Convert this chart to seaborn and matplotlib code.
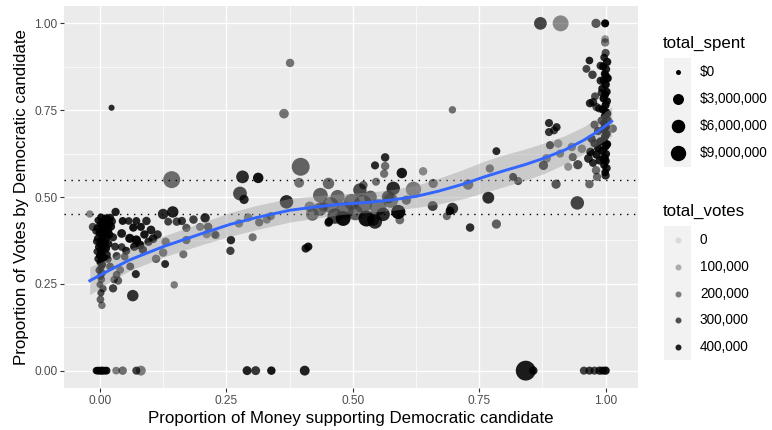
import numpy as np
import pandas as pd
import matplotlib
matplotlib.use("Agg")
import matplotlib.pyplot as plt
from matplotlib.colors import LinearSegmentedColormap
from matplotlib.patches import Rectangle
from matplotlib.ticker import FixedLocator, FormatStrFormatter
import seaborn as sns

# ---------------------------------------------------------------------------
# Race-level data: share of money backing the Democrat (money), Democratic
# vote share (share), total spending in $ millions (spent), total votes in
# thousands (votes).
# ---------------------------------------------------------------------------

# Races where almost no money backed the Democrat
a_money = [0.002, 0.010, -0.004, 0.015, 0.006,
           0.000, 0.012, 0.004, -0.006, 0.018,
           0.008, 0.001, 0.014, -0.002, 0.009,
           0.005, 0.011, -0.005, 0.003, 0.016,
           0.007, 0.000, 0.013, 0.002, -0.003,
           0.010, 0.006, 0.001, 0.004, 0.012,
           -0.001, 0.008, 0.003, 0.000, 0.005,
           0.002, -0.002, 0.004, 0.001, 0.003,
           0.000, 0.006, 0.002, 0.001, 0.004,
           0.020, 0.024, 0.022, 0.019, -0.008,
           -0.007, 0.017, -0.006, 0.014, -0.004,
           -0.014, -0.020]
a_share = [0.442, 0.438, 0.433, 0.436, 0.427,
           0.421, 0.429, 0.416, 0.411, 0.424,
           0.406, 0.401, 0.413, 0.396, 0.392,
           0.387, 0.398, 0.381, 0.377, 0.404,
           0.371, 0.366, 0.384, 0.361, 0.356,
           0.368, 0.349, 0.344, 0.338, 0.352,
           0.331, 0.326, 0.318, 0.312, 0.305,
           0.297, 0.289, 0.281, 0.272, 0.263,
           0.248, 0.236, 0.224, 0.205, 0.188,
           0.440, 0.430, 0.415, 0.392, 0.402,
           0.372, 0.365, 0.343, 0.334, 0.322,
           0.414, 0.451]
a_spent = [0.5, 0.8, 0.3, 1.0, 0.6,
           0.4, 0.9, 0.5, 0.3, 1.2,
           0.7, 0.4, 0.9, 0.3, 0.6,
           0.5, 0.8, 0.3, 0.4, 1.1,
           0.6, 0.4, 0.9, 0.5, 0.3,
           0.7, 0.5, 0.4, 0.5, 0.8,
           0.3, 0.6, 0.4, 0.3, 0.5,
           0.4, 0.3, 0.6, 0.4, 0.5,
           0.3, 0.5, 0.4, 0.6, 0.5,
           0.9, 0.7, 0.8, 0.6, 0.4,
           0.3, 0.7, 0.3, 0.6, 0.4,
           0.8, 0.5]
a_votes = [420, 440, 400, 430, 450,
           410, 445, 430, 390, 420,
           455, 440, 430, 420, 450,
           435, 445, 400, 440, 425,
           450, 430, 440, 445, 410,
           435, 450, 420, 440, 430,
           445, 420, 440, 430, 415,
           400, 380, 360, 340, 300,
           320, 280, 300, 260, 220,
           400, 380, 420, 410, 350,
           380, 400, 360, 380, 370,
           300, 180]

# Races with a small Democratic money share
b_money = [0.031, 0.045, 0.057, 0.072, 0.092,
           0.081, 0.101, 0.114, 0.066, 0.043,
           0.026, 0.059, 0.072, 0.068, 0.079,
           0.096, 0.030, 0.043, 0.033, 0.049,
           0.016, 0.040, 0.033, 0.036, 0.026,
           0.071, 0.065, 0.111, 0.129, 0.125,
           0.130, 0.147, 0.165, 0.171, 0.171,
           0.135, 0.152, 0.162, 0.185, 0.208,
           0.214, 0.211, 0.227, 0.198, 0.229,
           0.088, 0.105, 0.085, 0.052, 0.060,
           0.020, 0.028]
b_share = [0.457, 0.431, 0.431, 0.431, 0.431,
           0.414, 0.405, 0.392, 0.412, 0.395,
           0.384, 0.381, 0.376, 0.357, 0.362,
           0.371, 0.357, 0.356, 0.330, 0.328,
           0.321, 0.290, 0.276, 0.259, 0.237,
           0.278, 0.216, 0.322, 0.307, 0.340,
           0.371, 0.247, 0.335, 0.376, 0.411,
           0.429, 0.429, 0.431, 0.435, 0.440,
           0.414, 0.393, 0.393, 0.414, 0.390,
           0.392, 0.380, 0.348, 0.345, 0.300,
           0.300, 0.262]
b_spent = [0.9, 0.7, 0.6, 0.7, 1.0,
           0.8, 1.2, 1.0, 0.9, 1.2,
           0.8, 1.4, 1.6, 1.0, 1.3,
           0.9, 0.7, 0.6, 0.8, 0.6,
           0.5, 0.7, 0.6, 0.8, 0.9,
           0.8, 3.5, 1.0, 0.7, 1.0,
           1.0, 0.5, 0.8, 0.9, 0.9,
           0.7, 1.0, 0.9, 1.0, 1.6,
           1.0, 0.9, 0.9, 0.8, 0.7,
           1.0, 1.2, 0.9, 0.8, 0.7,
           0.6, 0.5]
b_votes = [400, 420, 380, 400, 380,
           420, 400, 360, 430, 410,
           380, 440, 450, 400, 430,
           380, 360, 340, 330, 300,
           350, 250, 300, 260, 330,
           380, 360, 260, 380, 250,
           250, 200, 220, 280, 280,
           330, 320, 350, 330, 380,
           300, 200, 190, 230, 250,
           420, 400, 380, 390, 330,
           320, 280]

# Competitive-money races on the left half
c_money = [0.125, 0.144, 0.142, 0.282, 0.313,
           0.277, 0.285, 0.275, 0.293, 0.315,
           0.330, 0.338, 0.259, 0.258, 0.302,
           0.369, 0.407, 0.412, 0.397, 0.394,
           0.376, 0.364, 0.023, 0.415, 0.436,
           0.452, 0.456, 0.452, 0.481, 0.498,
           0.514, 0.527, 0.540, 0.544, 0.546,
           0.442, 0.453, 0.420, 0.435, 0.465]
c_share = [0.451, 0.457, 0.550, 0.558, 0.555,
           0.510, 0.493, 0.424, 0.441, 0.427,
           0.435, 0.445, 0.376, 0.345, 0.384,
           0.486, 0.352, 0.357, 0.587, 0.541,
           0.886, 0.740, 0.757, 0.472, 0.505,
           0.539, 0.477, 0.426, 0.438, 0.486,
           0.520, 0.438, 0.434, 0.591, 0.544,
           0.472, 0.429, 0.450, 0.465, 0.445]
c_spent = [2.5, 3.5, 12.0, 5.0, 2.5,
           6.5, 1.5, 1.0, 1.0, 0.9,
           0.8, 0.8, 1.0, 0.9, 0.8,
           6.0, 1.0, 0.9, 14.0, 2.0,
           1.0, 1.8, 0.1, 2.5, 8.0,
           3.5, 10.0, 0.8, 8.0, 10.0,
           6.0, 10.0, 4.0, 0.8, 0.8,
           2.0, 1.0, 5.0, 6.0, 9.0]
c_votes = [380, 400, 230, 370, 430,
           300, 380, 220, 230, 270,
           230, 240, 380, 330, 220,
           380, 400, 420, 250, 220,
           220, 220, 380, 220, 260,
           240, 250, 380, 440, 270,
           300, 430, 330, 380, 230,
           220, 400, 250, 270, 330]

# Competitive-money races on the right half
d_money = [0.470, 0.485, 0.505, 0.520, 0.535,
           0.550, 0.560, 0.575, 0.580, 0.620,
           0.570, 0.606, 0.590, 0.593, 0.544,
           0.521, 0.564, 0.564, 0.562, 0.597,
           0.639, 0.659, 0.728, 0.697, 0.658,
           0.697, 0.692, 0.686, 0.732, 0.784,
           0.768, 0.784, 0.771]
d_share = [0.500, 0.462, 0.455, 0.480, 0.500,
           0.470, 0.450, 0.490, 0.525, 0.522,
           0.500, 0.491, 0.457, 0.434, 0.429,
           0.534, 0.614, 0.589, 0.567, 0.569,
           0.574, 0.539, 0.536, 0.751, 0.474,
           0.467, 0.460, 0.445, 0.412, 0.422,
           0.498, 0.632, 0.582]
d_spent = [7.0, 12.0, 9.0, 14.0, 5.0,
           11.0, 6.0, 8.0, 6.0, 9.0,
           5.0, 1.5, 7.0, 1.2, 7.0,
           1.0, 1.0, 1.0, 0.9, 2.5,
           1.0, 1.5, 2.5, 0.5, 2.0,
           3.5, 1.0, 0.8, 1.0, 1.5,
           4.0, 0.7, 0.9]
d_votes = [250, 280, 260, 270, 280,
           260, 380, 250, 380, 200,
           330, 280, 450, 230, 370,
           260, 380, 230, 220, 420,
           170, 250, 250, 230, 330,
           350, 430, 230, 370, 260,
           370, 380, 250]

# Races with most money backing the Democrat
e_money = [0.871, 0.911, 0.981, 0.999, 0.888,
           0.903, 0.898, 0.888, 0.906, 0.890,
           0.910, 0.883, 0.877, 0.926, 0.935,
           0.933, 0.945, 0.953, 0.966, 0.981,
           0.983, 0.968, 0.902, 0.827, 0.817,
           0.944, 0.968, 0.962, 0.974, 0.990,
           0.975, 0.969, 0.982, 0.979, 1.014,
           0.999, 0.999, 0.972, 0.978, 0.985,
           0.970, 0.982, 0.988, 0.975, 0.990,
           0.985, 0.978, 0.992, 0.987, 0.992,
           0.990]
e_share = [1.000, 1.000, 1.000, 1.000, 0.713,
           0.701, 0.692, 0.687, 0.654, 0.649,
           0.625, 0.611, 0.591, 0.587, 0.615,
           0.644, 0.593, 0.639, 0.611, 0.577,
           0.558, 0.537, 0.537, 0.546, 0.558,
           0.483, 0.893, 0.869, 0.852, 0.878,
           0.773, 0.770, 0.759, 0.790, 0.697,
           0.945, 0.955, 0.668, 0.655, 0.641,
           0.630, 0.622, 0.605, 0.598, 0.660,
           0.690, 0.708, 0.720, 0.755, 0.800,
           0.835]
e_spent = [5.0, 10.0, 1.5, 0.8, 0.8,
           0.8, 0.8, 0.8, 1.0, 0.8,
           0.8, 1.2, 1.5, 0.8, 0.8,
           1.0, 1.5, 1.0, 1.2, 1.0,
           0.9, 1.0, 1.5, 0.8, 0.7,
           6.0, 0.6, 0.7, 1.0, 0.8,
           1.0, 0.9, 0.9, 0.7, 1.0,
           1.0, 0.6, 0.9, 1.0, 0.8,
           1.0, 0.9, 0.8, 0.7, 0.9,
           0.9, 0.8, 0.8, 0.7, 0.7,
           0.8]
e_votes = [320, 170, 280, 460, 370,
           380, 330, 350, 180, 380,
           230, 230, 350, 150, 320,
           230, 300, 220, 380, 230,
           230, 240, 280, 300, 380,
           320, 400, 320, 330, 350,
           350, 380, 300, 300, 230,
           200, 150, 400, 420, 430,
           440, 420, 400, 380, 440,
           380, 330, 350, 360, 340,
           380]

# Races where nearly all money backed the Democrat
f_money = [1.000, 0.997, 1.003, 0.995, 1.001,
           0.998, 1.004, 0.996, 1.000, 0.993,
           1.002, 0.999, 0.996, 1.003, 1.000,
           0.994, 1.001, 0.998, 1.004, 0.997,
           1.000, 0.995, 1.002, 0.999, 0.996,
           1.003, 1.000, 0.994, 1.001, 0.998,
           1.000, 0.997, 1.002, 0.999, 1.000,
           0.996, 1.001, 0.998, 1.003, 1.000]
f_share = [0.915, 0.902, 0.889, 0.876, 0.868,
           0.855, 0.842, 0.836, 0.824, 0.812,
           0.803, 0.795, 0.784, 0.776, 0.765,
           0.752, 0.744, 0.733, 0.721, 0.713,
           0.702, 0.694, 0.682, 0.675, 0.664,
           0.652, 0.645, 0.633, 0.624, 0.613,
           0.604, 0.592, 0.583, 0.571, 0.562,
           0.610, 0.650, 0.700, 0.740, 0.850]
f_spent = [0.8, 0.6, 0.9, 0.7, 0.8,
           0.6, 0.9, 0.7, 1.0, 0.6,
           0.8, 0.7, 0.9, 0.6, 0.8,
           0.7, 0.9, 0.6, 0.8, 0.7,
           1.0, 0.6, 0.8, 0.9, 0.7,
           0.8, 0.6, 0.9, 0.7, 0.8,
           0.9, 0.7, 0.8, 0.6, 0.9,
           1.0, 0.8, 0.7, 0.9, 0.8]
f_votes = [300, 380, 420, 440, 400,
           430, 450, 420, 440, 410,
           430, 450, 440, 420, 445,
           430, 450, 440, 420, 445,
           450, 430, 440, 420, 450,
           440, 430, 445, 420, 440,
           430, 410, 400, 420, 380,
           440, 450, 430, 440, 420]

# Races without a Democratic vote
g_money = [-0.007, -0.004, -0.002, 0.000, 0.002,
           0.004, 0.006, 0.008, 0.010, 0.013,
           0.032, 0.045, 0.072, 0.081, 0.291,
           0.308, 0.339, 0.405, 0.842, 0.857,
           0.957, 0.968, 0.978, 0.988, 0.994,
           1.000]
g_share = [0.0, 0.0, 0.0, 0.0, 0.0,
           0.0, 0.0, 0.0, 0.0, 0.0,
           0.0, 0.0, 0.0, 0.0, 0.0,
           0.0, 0.0, 0.0, 0.0, 0.0,
           0.0, 0.0, 0.0, 0.0, 0.0,
           0.0]
g_spent = [0.5, 0.7, 0.4, 0.6, 0.5,
           0.8, 0.4, 0.6, 0.5, 0.7,
           0.6, 1.0, 0.8, 2.0, 1.3,
           1.3, 1.0, 2.0, 18.5, 1.0,
           0.8, 0.8, 0.8, 0.9, 0.8,
           0.9]
g_votes = [420, 400, 440, 430, 410,
           450, 380, 420, 400, 430,
           200, 230, 330, 200, 400,
           350, 420, 400, 410, 400,
           330, 350, 330, 380, 400,
           430]

# Fitted smooth with its confidence band
smooth_x = [-0.020, 0.020, 0.059, 0.125, 0.198, 0.257, 0.310, 0.376, 0.430,
            0.475, 0.534, 0.580, 0.626, 0.670, 0.718, 0.760, 0.800, 0.840,
            0.877, 0.920, 0.956, 0.985, 1.012]
smooth_y = [0.259, 0.290, 0.319, 0.357, 0.393, 0.421, 0.441, 0.462, 0.472,
            0.479, 0.485, 0.492, 0.502, 0.517, 0.537, 0.558, 0.576, 0.593,
            0.611, 0.636, 0.663, 0.689, 0.718]
smooth_se = [0.040, 0.034, 0.031, 0.030, 0.032, 0.034, 0.035, 0.034, 0.032,
             0.030, 0.029, 0.030, 0.032, 0.037, 0.042, 0.045, 0.046, 0.045,
             0.044, 0.041, 0.039, 0.039, 0.043]

# Reference band for close races
close_lines = [0.45, 0.55]

# Legend breaks
spent_breaks = [0, 3_000_000, 6_000_000, 9_000_000]
spent_labels = ["$0", "$3,000,000", "$6,000,000", "$9,000,000"]
votes_breaks = [0, 100_000, 200_000, 300_000, 400_000]
votes_labels = ["0", "100,000", "200,000", "300,000", "400,000"]

x_ticks = [0.0, 0.25, 0.5, 0.75, 1.0]
y_ticks = [0.0, 0.25, 0.5, 0.75, 1.0]

# ---------------------------------------------------------------------------
groups = [
    (a_money, a_share, a_spent, a_votes),
    (b_money, b_share, b_spent, b_votes),
    (c_money, c_share, c_spent, c_votes),
    (d_money, d_share, d_spent, d_votes),
    (e_money, e_share, e_spent, e_votes),
    (f_money, f_share, f_spent, f_votes),
    (g_money, g_share, g_spent, g_votes),
]
frames = []
for m, s, sp, v in groups:
    assert len(m) == len(s) == len(sp) == len(v), (len(m), len(s), len(sp), len(v))
    frames.append(pd.DataFrame({
        "money_prop": m,
        "vote_prop": s,
        "total_spent": np.array(sp) * 1e6,
        "total_votes": np.array(v) * 1e3,
    }))
df = pd.concat(frames, ignore_index=True)

DPI = 100
PX2PT = 72 / DPI
VOTES_MAX = 470_000


def marker_area(spent):
    """Area scale: diameter grows with the square root of spending."""
    diam_px = 5.0 + 3.46 * np.sqrt(np.asarray(spent, dtype=float) / 1e6)
    return (diam_px * PX2PT) ** 2


df["marker_area"] = marker_area(df["total_spent"])
area_lo = marker_area(0.0)
area_hi = marker_area(25e6)

alpha_cmap = LinearSegmentedColormap.from_list(
    "votes_alpha", [(0, 0, 0, 0.1), (0, 0, 0, 1.0)])

plt.rcParams["font.family"] = ["Liberation Sans", "DejaVu Sans"]

fig = plt.figure(figsize=(7.72, 4.30), dpi=DPI)
ax = fig.add_axes([64 / 772, 1 - 388 / 430, 574 / 772, 382 / 430])
ax.set_facecolor("#EBEBEB")
for sp in ax.spines.values():
    sp.set_visible(False)

ax.set_xlim(-0.071, 1.064)
ax.set_ylim(-0.05, 1.05)
ax.xaxis.set_major_locator(FixedLocator(x_ticks))
ax.yaxis.set_major_locator(FixedLocator(y_ticks))
ax.xaxis.set_minor_locator(FixedLocator([0.125, 0.375, 0.625, 0.875]))
ax.yaxis.set_minor_locator(FixedLocator([0.125, 0.375, 0.625, 0.875]))
ax.xaxis.set_major_formatter(FormatStrFormatter("%.2f"))
ax.yaxis.set_major_formatter(FormatStrFormatter("%.2f"))
ax.grid(which="major", color="white", linewidth=1.0)
ax.grid(which="minor", color="white", linewidth=0.5)
ax.set_axisbelow(True)
ax.tick_params(which="major", length=2.75, width=0.8, color="#333333",
               labelsize=8.6, labelcolor="#4D4D4D", pad=2)
ax.tick_params(which="minor", length=0)

sns.scatterplot(data=df, x="money_prop", y="vote_prop",
                size="marker_area", sizes=(area_lo, area_hi),
                size_norm=(area_lo, area_hi),
                hue="total_votes", palette=alpha_cmap,
                hue_norm=(0, VOTES_MAX),
                linewidth=0, legend=False, ax=ax, zorder=3)

for yv in close_lines:
    ax.axhline(yv, color="black", linewidth=1.0, linestyle=(0, (1, 4)), zorder=4)

lo = np.array(smooth_y) - np.array(smooth_se)
hi = np.array(smooth_y) + np.array(smooth_se)
ax.fill_between(smooth_x, lo, hi, color="#999999", alpha=0.4, linewidth=0, zorder=5)
sns.lineplot(x=smooth_x, y=smooth_y, color="#3366FF", linewidth=2.1,
             ax=ax, zorder=6, sort=False)

ax.set_xlabel("Proportion of Money supporting Democratic candidate",
              fontsize=12.2, color="black", labelpad=3)
ax.set_ylabel("Proportion of Votes by Democratic candidate",
              fontsize=12.2, color="black", labelpad=4)

# Legends drawn in figure pixel space
lg = fig.add_axes([0, 0, 1, 1], zorder=10)
lg.set_xlim(0, 772)
lg.set_ylim(430, 0)
lg.axis("off")
lg.patch.set_alpha(0)

key_x0, key_w = 664, 27
lg.text(663, 43, "total_spent", fontsize=12.2, va="center", ha="left")
sp_centers = [72, 99, 126, 152.7]
lg.add_patch(Rectangle((key_x0, 58), key_w, 109, facecolor="#F2F2F2",
                       edgecolor="none"))
for yc, val, lab in zip(sp_centers, spent_breaks, spent_labels):
    lg.scatter([key_x0 + key_w / 2], [yc], s=marker_area(val), color="black",
               linewidth=0)
    lg.text(700, yc, lab, fontsize=9.8, va="center", ha="left")

lg.text(663, 211, "total_votes", fontsize=12.2, va="center", ha="left")
vt_centers = [240, 267, 293.5, 320, 347]
lg.add_patch(Rectangle((key_x0, 226), key_w, 134, facecolor="#F2F2F2",
                       edgecolor="none"))
for yc, val, lab in zip(vt_centers, votes_breaks, votes_labels):
    lg.scatter([key_x0 + key_w / 2], [yc], s=(6 * PX2PT) ** 2,
               color=alpha_cmap(val / VOTES_MAX), linewidth=0)
    lg.text(700, yc, lab, fontsize=9.8, va="center", ha="left")

fig.savefig("out.png", dpi=DPI)
